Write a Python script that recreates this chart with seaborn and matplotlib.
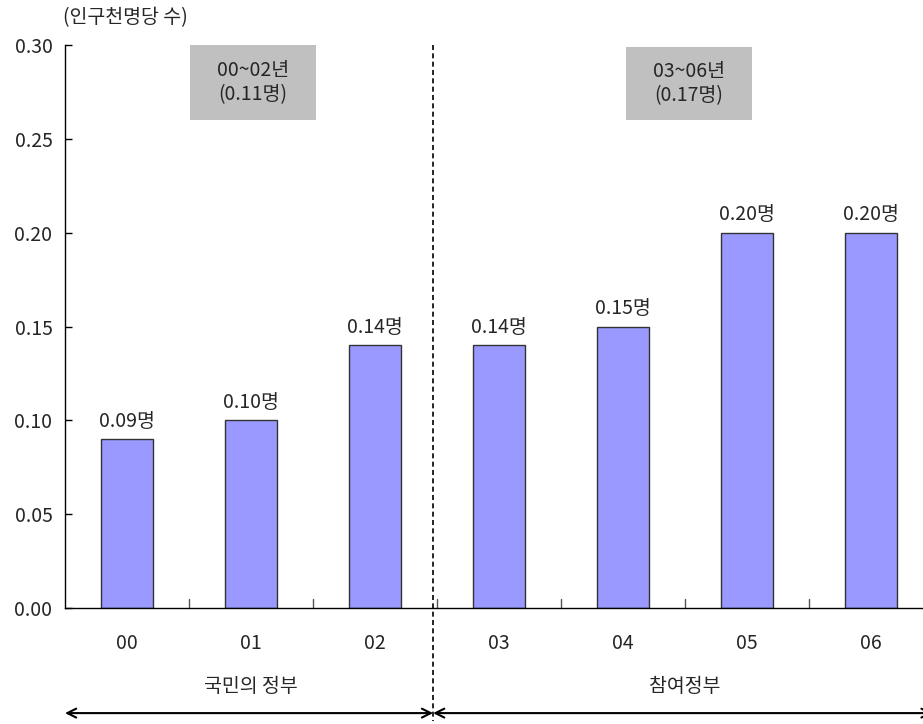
import matplotlib
matplotlib.use("Agg")
import matplotlib.pyplot as plt
from matplotlib.patches import Rectangle
import seaborn as sns
import pandas as pd

years = ["00", "01", "02", "03", "04", "05", "06"]
values = [0.09, 0.10, 0.14, 0.14, 0.15, 0.20, 0.20]
value_labels = ["0.09명", "0.10명", "0.14명", "0.14명", "0.15명", "0.20명", "0.20명"]
period_boxes = ["00~02년\n(0.11명)", "03~06년\n(0.17명)"]
governments = ["국민의 정부", "참여정부"]
y_ticks = [0.00, 0.05, 0.10, 0.15, 0.20, 0.25, 0.30]

sns.set_theme(style="white")
plt.rcParams["font.family"] = ["Noto Sans CJK KR", "DejaVu Sans"]
FS = 14
FW = "medium"

df = pd.DataFrame({"year": years, "value": values})

fig = plt.figure(figsize=(9.23, 7.24), dpi=100)
ax = fig.add_axes([0.0704, 0.1602, 0.940, 0.7776])

sns.barplot(data=df, x="year", y="value", ax=ax, color="#9999FF",
            saturation=1, width=0.42, edgecolor="#333333", linewidth=1)

ax.set_xlim(-0.5, 6.5)
ax.set_ylim(0, 0.30)
ax.set_yticks(y_ticks)
ax.set_yticklabels([f"{t:.2f}" for t in y_ticks], fontsize=FS, fontweight=FW)
ax.set_xticks([])
ax.set_xlabel("")
ax.set_ylabel("")

for s in ["top", "right"]:
    ax.spines[s].set_visible(False)
for s in ["left", "bottom"]:
    ax.spines[s].set_color("black")
    ax.spines[s].set_linewidth(1)
ax.tick_params(axis="y", direction="in", length=5, width=1, color="black",
               left=True, pad=9)

# small inward ticks at category boundaries
for b in [0.5, 1.5, 2.5, 3.5, 4.5, 5.5]:
    ax.plot([b, b], [0, 0.005], color="#555555", lw=1, clip_on=False)

# value labels above the bars
for i, (v, lab) in enumerate(zip(values, value_labels)):
    ax.text(i, v + 0.004, lab, ha="center", va="bottom", fontsize=FS,
            fontweight=FW)

# category labels under the axis
for i, y in enumerate(years):
    ax.text(i, -0.019, y, ha="center", va="center", fontsize=FS, fontweight=FW)

# period summary boxes
boxes = [(0.508, 1.524, 0.260, 0.300), (4.024, 5.040, 0.260, 0.299)]
for (x0, x1, y0, y1), txt in zip(boxes, period_boxes):
    ax.add_patch(Rectangle((x0, y0), x1 - x0, y1 - y0, facecolor="#C0C0C0",
                           edgecolor="none", zorder=1))
    ax.text((x0 + x1) / 2, (y0 + y1) / 2, txt, ha="center", va="center",
            fontsize=FS, fontweight=FW, linespacing=1.2, zorder=2)

# dashed divider between the two governments
DIV = 2.47
ax.plot([DIV, DIV], [0.30, -0.060], color="black", lw=1.2,
        linestyle=(0, (3, 2)), clip_on=False)

# government names and spans
ax.text(1.0, -0.042, governments[0], ha="center", va="center", fontsize=FS,
        fontweight=FW)
ax.text(4.5, -0.042, governments[1], ha="center", va="center", fontsize=FS,
        fontweight=FW)
ax.annotate("", xy=(-0.5, -0.056), xytext=(DIV, -0.056),
            arrowprops=dict(arrowstyle="<->", color="black", lw=1.5,
                            mutation_scale=16, shrinkA=0, shrinkB=0),
            annotation_clip=False)
ax.annotate("", xy=(DIV, -0.056), xytext=(6.5, -0.056),
            arrowprops=dict(arrowstyle="<->", color="black", lw=1.5,
                            mutation_scale=16, shrinkA=0, shrinkB=0),
            annotation_clip=False)

# unit caption
fig.text(0.068, 0.975, "(인구천명당 수)", ha="left", va="center", fontsize=FS,
         fontweight=FW)

fig.savefig("out.png", dpi=100)
